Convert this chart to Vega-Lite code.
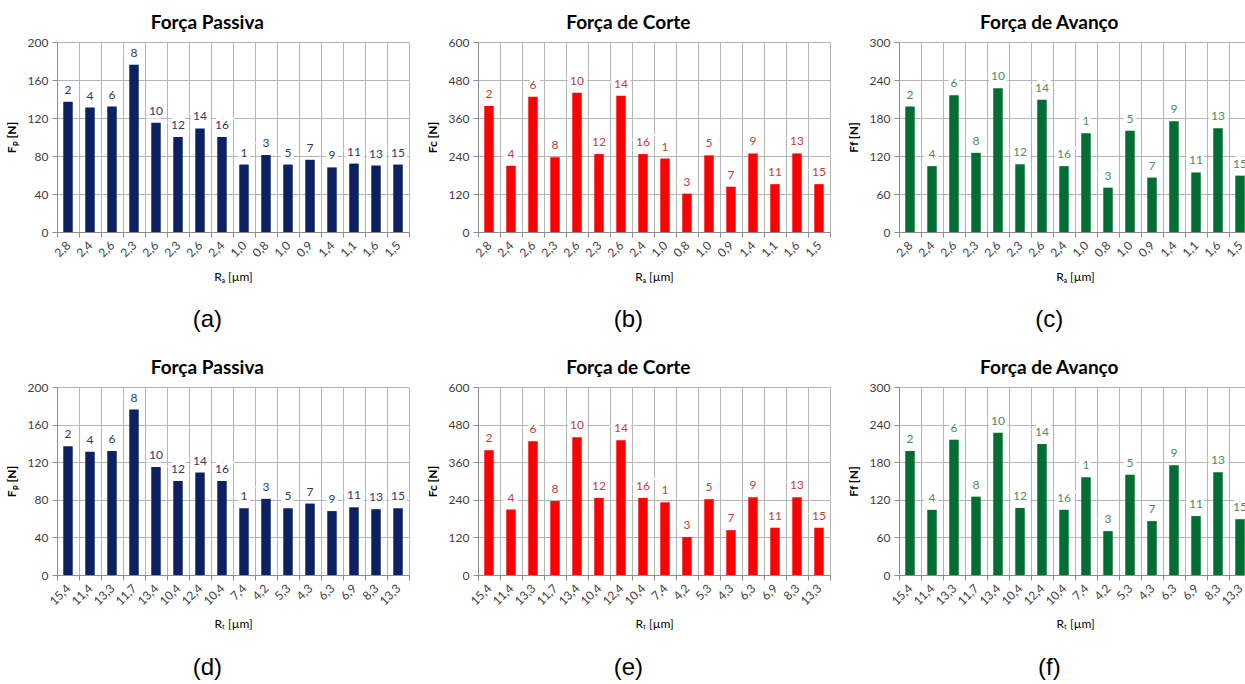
{
  "$schema": "https://vega.github.io/schema/vega-lite/v6.json",
  "background": "white",
  "padding": {"left": 5, "top": 14, "right": 0, "bottom": 0},
  "datasets": {
    "forces": [
      {"i": 1, "xa": "2,8|2", "xt": "15,4|2", "exp": 2, "fp": 137, "fc": 398, "ff": 198},
      {"i": 2, "xa": "2,4|4", "xt": "11,4|4", "exp": 4, "fp": 131, "fc": 209, "ff": 104},
      {"i": 3, "xa": "2,6|6", "xt": "13,3|6", "exp": 6, "fp": 132, "fc": 427, "ff": 216},
      {"i": 4, "xa": "2,3|8", "xt": "11,7|8", "exp": 8, "fp": 176, "fc": 236, "ff": 125},
      {"i": 5, "xa": "2,6|10", "xt": "13,4|10", "exp": 10, "fp": 115, "fc": 440, "ff": 227},
      {"i": 6, "xa": "2,3|12", "xt": "10,4|12", "exp": 12, "fp": 100, "fc": 246, "ff": 107},
      {"i": 7, "xa": "2,6|14", "xt": "12,4|14", "exp": 14, "fp": 109, "fc": 430, "ff": 209},
      {"i": 8, "xa": "2,4|16", "xt": "10,4|16", "exp": 16, "fp": 100, "fc": 246, "ff": 104},
      {"i": 9, "xa": "1,0|1", "xt": "7,4|1", "exp": 1, "fp": 71, "fc": 232, "ff": 156},
      {"i": 10, "xa": "0,8|3", "xt": "4,2|3", "exp": 3, "fp": 81, "fc": 121, "ff": 70},
      {"i": 11, "xa": "1,0|5", "xt": "5,3|5", "exp": 5, "fp": 71, "fc": 242, "ff": 160},
      {"i": 12, "xa": "0,9|7", "xt": "4,3|7", "exp": 7, "fp": 76, "fc": 143, "ff": 86},
      {"i": 13, "xa": "1,4|9", "xt": "6,3|9", "exp": 9, "fp": 68, "fc": 248, "ff": 175},
      {"i": 14, "xa": "1,1|11", "xt": "6,9|11", "exp": 11, "fp": 72, "fc": 151, "ff": 94},
      {"i": 15, "xa": "1,6|13", "xt": "8,3|13", "exp": 13, "fp": 70, "fc": 248, "ff": 164},
      {"i": 16, "xa": "1,5|15", "xt": "13,3|15", "exp": 15, "fp": 71, "fc": 151, "ff": 89}
    ]
  },
  "config": {
    "view": {"stroke": null},
    "font": "Lato",
    "title": {"font": "Lato", "fontSize": 19, "fontWeight": "bold", "color": "#000000", "anchor": "middle", "frame": "bounds", "offset": 3},
    "axis": {"labelFont": "Lato", "labelFontSize": 12, "labelColor": "#404040", "titleFont": "Lato", "titleFontSize": 12, "titleColor": "#000000", "gridColor": "#B5B5B5", "gridWidth": 1, "domainColor": "#8C8C8C", "tickColor": "#8C8C8C", "tickSize": 5},
    "axisX": {"tickBand": "extent", "grid": true, "labelAngle": -45, "labelAlign": "right", "labelBaseline": "middle", "labelPadding": 6, "titleFontWeight": "normal", "titlePadding": 12, "labelExpr": "split(datum.label, '|')[0]"},
    "axisY": {"grid": true, "titleFontWeight": "bold", "labelPadding": 4, "titlePadding": 9},
    "text": {"font": "Lato", "fontSize": 12},
    "concat": {"spacing": 16}
  },
  "spacing": 26,
  "vconcat": [
    {
      "hconcat": [
        {
          "title": {"text": "(a)", "orient": "bottom", "font": "Liberation Sans", "fontSize": 24, "fontWeight": "normal", "offset": 26},
          "vconcat": [
            {
              "title": "Força Passiva",
              "width": 352, "height": 190,
              "data": {"name": "forces"},
              "encoding": {
                "x": {"field": "xa", "type": "ordinal", "sort": {"field": "i", "op": "min"}, "scale": {"paddingInner": 0, "paddingOuter": 0}, "axis": {"title": "Rₐ [µm]"}},
                "y": {"field": "fp", "type": "quantitative", "scale": {"domain": [0, 200], "nice": false}, "axis": {"values": [0, 40, 80, 120, 160, 200], "title": "Fₚ [N]"}},
                "text": {"field": "exp"}
              },
              "layer": [
                {"mark": {"type": "bar", "width": {"band": 0.43}, "color": "#0B2161"}},
                {"mark": {"type": "text", "dy": -8, "baseline": "alphabetic", "color": "white", "stroke": "white", "strokeWidth": 7}},
                {"mark": {"type": "text", "dy": -8, "baseline": "alphabetic", "color": "#2E3B5C"}}
              ]
            }
          ]
        },
        {
          "title": {"text": "(b)", "orient": "bottom", "font": "Liberation Sans", "fontSize": 24, "fontWeight": "normal", "offset": 26},
          "vconcat": [
            {
              "title": "Força de Corte",
              "width": 352, "height": 190,
              "data": {"name": "forces"},
              "encoding": {
                "x": {"field": "xa", "type": "ordinal", "sort": {"field": "i", "op": "min"}, "scale": {"paddingInner": 0, "paddingOuter": 0}, "axis": {"title": "Rₐ [µm]"}},
                "y": {"field": "fc", "type": "quantitative", "scale": {"domain": [0, 600], "nice": false}, "axis": {"values": [0, 120, 240, 360, 480, 600], "title": "Fc [N]"}},
                "text": {"field": "exp"}
              },
              "layer": [
                {"mark": {"type": "bar", "width": {"band": 0.43}, "color": "#FF0000"}},
                {"mark": {"type": "text", "dy": -8, "baseline": "alphabetic", "color": "white", "stroke": "white", "strokeWidth": 7}},
                {"mark": {"type": "text", "dy": -8, "baseline": "alphabetic", "color": "#C43C3C"}}
              ]
            }
          ]
        },
        {
          "title": {"text": "(c)", "orient": "bottom", "font": "Liberation Sans", "fontSize": 24, "fontWeight": "normal", "offset": 26},
          "vconcat": [
            {
              "title": "Força de Avanço",
              "width": 352, "height": 190,
              "data": {"name": "forces"},
              "encoding": {
                "x": {"field": "xa", "type": "ordinal", "sort": {"field": "i", "op": "min"}, "scale": {"paddingInner": 0, "paddingOuter": 0}, "axis": {"title": "Rₐ [µm]"}},
                "y": {"field": "ff", "type": "quantitative", "scale": {"domain": [0, 300], "nice": false}, "axis": {"values": [0, 60, 120, 180, 240, 300], "title": "Ff [N]"}},
                "text": {"field": "exp"}
              },
              "layer": [
                {"mark": {"type": "bar", "width": {"band": 0.43}, "color": "#006E33"}},
                {"mark": {"type": "text", "dy": -8, "baseline": "alphabetic", "color": "white", "stroke": "white", "strokeWidth": 7}},
                {"mark": {"type": "text", "dy": -8, "baseline": "alphabetic", "color": "#4C8A5F"}}
              ]
            }
          ]
        }
      ]
    },
    {
      "hconcat": [
        {
          "title": {"text": "(d)", "orient": "bottom", "font": "Liberation Sans", "fontSize": 24, "fontWeight": "normal", "offset": 26},
          "vconcat": [
            {
              "title": "Força Passiva",
              "width": 352, "height": 188,
              "data": {"name": "forces"},
              "encoding": {
                "x": {"field": "xt", "type": "ordinal", "sort": {"field": "i", "op": "min"}, "scale": {"paddingInner": 0, "paddingOuter": 0}, "axis": {"title": "Rₜ [µm]"}},
                "y": {"field": "fp", "type": "quantitative", "scale": {"domain": [0, 200], "nice": false}, "axis": {"values": [0, 40, 80, 120, 160, 200], "title": "Fₚ [N]"}},
                "text": {"field": "exp"}
              },
              "layer": [
                {"mark": {"type": "bar", "width": {"band": 0.43}, "color": "#0B2161"}},
                {"mark": {"type": "text", "dy": -8, "baseline": "alphabetic", "color": "white", "stroke": "white", "strokeWidth": 7}},
                {"mark": {"type": "text", "dy": -8, "baseline": "alphabetic", "color": "#2E3B5C"}}
              ]
            }
          ]
        },
        {
          "title": {"text": "(e)", "orient": "bottom", "font": "Liberation Sans", "fontSize": 24, "fontWeight": "normal", "offset": 26},
          "vconcat": [
            {
              "title": "Força de Corte",
              "width": 352, "height": 188,
              "data": {"name": "forces"},
              "encoding": {
                "x": {"field": "xt", "type": "ordinal", "sort": {"field": "i", "op": "min"}, "scale": {"paddingInner": 0, "paddingOuter": 0}, "axis": {"title": "Rₜ [µm]"}},
                "y": {"field": "fc", "type": "quantitative", "scale": {"domain": [0, 600], "nice": false}, "axis": {"values": [0, 120, 240, 360, 480, 600], "title": "Fc [N]"}},
                "text": {"field": "exp"}
              },
              "layer": [
                {"mark": {"type": "bar", "width": {"band": 0.43}, "color": "#FF0000"}},
                {"mark": {"type": "text", "dy": -8, "baseline": "alphabetic", "color": "white", "stroke": "white", "strokeWidth": 7}},
                {"mark": {"type": "text", "dy": -8, "baseline": "alphabetic", "color": "#C43C3C"}}
              ]
            }
          ]
        },
        {
          "title": {"text": "(f)", "orient": "bottom", "font": "Liberation Sans", "fontSize": 24, "fontWeight": "normal", "offset": 26},
          "vconcat": [
            {
              "title": "Força de Avanço",
              "width": 352, "height": 188,
              "data": {"name": "forces"},
              "encoding": {
                "x": {"field": "xt", "type": "ordinal", "sort": {"field": "i", "op": "min"}, "scale": {"paddingInner": 0, "paddingOuter": 0}, "axis": {"title": "Rₜ [µm]"}},
                "y": {"field": "ff", "type": "quantitative", "scale": {"domain": [0, 300], "nice": false}, "axis": {"values": [0, 60, 120, 180, 240, 300], "title": "Ff [N]"}},
                "text": {"field": "exp"}
              },
              "layer": [
                {"mark": {"type": "bar", "width": {"band": 0.43}, "color": "#006E33"}},
                {"mark": {"type": "text", "dy": -8, "baseline": "alphabetic", "color": "white", "stroke": "white", "strokeWidth": 7}},
                {"mark": {"type": "text", "dy": -8, "baseline": "alphabetic", "color": "#4C8A5F"}}
              ]
            }
          ]
        }
      ]
    }
  ]
}
